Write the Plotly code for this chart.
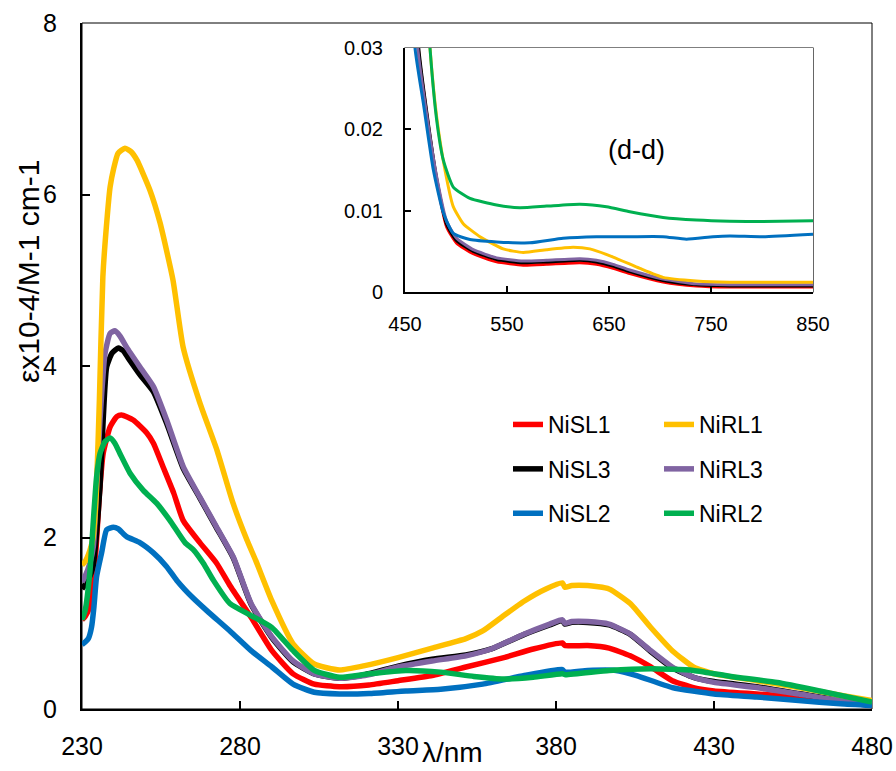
import plotly.graph_objects as go

# ---------------- main spectra (lambda / nm, eps x10^-4) ----------------
sl1_x = [230, 231, 232.5, 233.5, 234.5, 235.5, 236.7, 238.9, 241, 242.5, 246.2, 250.5, 252.6, 255.7, 259, 262, 267.3, 272.6, 276.8, 283.5, 290.1, 296.8, 303.5, 311.5, 320.8, 330, 340.8, 351.5, 363.5, 372.8, 382, 382.8, 390, 396.8, 403.5, 410, 416.8, 423.5, 430, 443.5, 456.8, 470, 480]
sl1_y = [1.04, 1.08, 1.2, 1.45, 1.9, 2.5, 2.98, 3.29, 3.41, 3.43, 3.37, 3.22, 3.10, 2.82, 2.52, 2.20, 1.94, 1.70, 1.44, 1.07, 0.68, 0.41, 0.29, 0.26, 0.28, 0.33, 0.39, 0.49, 0.60, 0.70, 0.77, 0.74, 0.74, 0.71, 0.62, 0.49, 0.33, 0.25, 0.21, 0.175, 0.14, 0.08, 0.04]

rl1_x = [230, 231, 232.5, 233.5, 234.5, 235.5, 236.6, 238, 238.9, 240, 241.4, 243.6, 245.5, 247.4, 251.5, 254.7, 258.8, 262, 267.3, 272.7, 277.8, 282.2, 285, 290.1, 296.8, 303.5, 311.5, 319.5, 330, 340.8, 351.5, 356.8, 363.5, 370, 376.8, 382, 382.8, 385, 390, 396.8, 403.5, 410, 416.8, 423.5, 430, 443.5, 456.8, 470, 480]
rl1_y = [1.68, 1.72, 1.85, 2.0, 2.5, 3.6, 5.04, 5.75, 6.09, 6.3, 6.48, 6.54, 6.5, 6.4, 6.05, 5.67, 5.0, 4.22, 3.57, 3.02, 2.4, 1.97, 1.73, 1.26, 0.76, 0.525, 0.455, 0.506, 0.60, 0.71, 0.82, 0.91, 1.09, 1.26, 1.40, 1.47, 1.42, 1.44, 1.44, 1.40, 1.23, 0.95, 0.68, 0.49, 0.41, 0.33, 0.25, 0.16, 0.10]

sl3_x = [230, 231, 232.5, 233.5, 234.5, 235.7, 236.7, 237.8, 239.5, 241.5, 243, 244.5, 248.3, 252.6, 256.8, 262.1, 267.3, 272.6, 277.9, 283.5, 290.1, 296.8, 303.5, 311.5, 319.5, 330, 340.8, 351.5, 359.5, 370, 378, 382, 382.8, 385, 390, 396.8, 403.5, 410, 416.8, 423.5, 430, 443.5, 456.8, 470, 480]
sl3_y = [1.40, 1.45, 1.55, 1.66, 2.0, 2.59, 3.37, 3.99, 4.15, 4.21, 4.18, 4.10, 3.90, 3.70, 3.33, 2.80, 2.46, 2.11, 1.76, 1.22, 0.83, 0.55, 0.41, 0.36, 0.40, 0.50, 0.58, 0.63, 0.70, 0.87, 0.98, 1.03, 0.99, 1.01, 1.01, 0.98, 0.87, 0.67, 0.48, 0.37, 0.32, 0.26, 0.18, 0.10, 0.06]

rl3_x = [230, 231, 232.5, 233.6, 234.5, 235.7, 237.3, 238.9, 240.4, 242, 244.1, 248.3, 252.6, 256.8, 262.1, 267.3, 272.6, 277.9, 283.5, 290.1, 296.8, 303.5, 311.5, 319.5, 330, 340.8, 351.5, 359.5, 370, 378, 382, 382.8, 385, 390, 396.8, 403.5, 410, 416.8, 423.5, 430, 443.5, 456.8, 470, 480]
rl3_y = [1.48, 1.55, 1.7, 1.9, 2.5, 3.37, 4.15, 4.38, 4.41, 4.35, 4.22, 3.99, 3.76, 3.37, 2.82, 2.47, 2.12, 1.77, 1.23, 0.84, 0.56, 0.41, 0.36, 0.39, 0.49, 0.56, 0.62, 0.70, 0.875, 0.99, 1.04, 1.00, 1.02, 1.02, 0.99, 0.875, 0.68, 0.49, 0.37, 0.31, 0.25, 0.175, 0.10, 0.06]

sl2_x = [230, 231, 232, 233, 233.8, 234.6, 236.2, 237.8, 239.9, 241.5, 244.1, 248.3, 252.6, 256.8, 260, 265, 270, 276.8, 283.5, 290.1, 296.8, 303.5, 311.5, 320.8, 332.5, 343.5, 356.8, 370, 382, 382.8, 390, 399, 405.5, 416.8, 430, 443.5, 456.8, 470, 480]
sl2_y = [0.75, 0.78, 0.82, 0.95, 1.2, 1.54, 1.82, 2.09, 2.12, 2.10, 2.01, 1.94, 1.82, 1.66, 1.50, 1.30, 1.13, 0.91, 0.68, 0.49, 0.29, 0.195, 0.175, 0.18, 0.21, 0.23, 0.29, 0.39, 0.46, 0.43, 0.45, 0.45, 0.39, 0.25, 0.175, 0.14, 0.10, 0.06, 0.04]

rl2_x = [230, 231, 232.5, 233.6, 234.6, 235.7, 237.3, 238.9, 240.4, 242, 245.2, 249.4, 253.6, 257.8, 262.6, 265.2, 268.4, 271.6, 276.8, 283.5, 290.1, 296.8, 303.5, 311.5, 320.8, 332.5, 343.5, 354, 363.5, 372.8, 382, 383, 396.8, 410, 423.5, 437, 450, 463.5, 480]
rl2_y = [1.04, 1.15, 1.6, 2.2, 2.7, 2.98, 3.12, 3.16, 3.10, 2.98, 2.75, 2.55, 2.40, 2.20, 1.94, 1.86, 1.70, 1.50, 1.23, 1.09, 0.95, 0.68, 0.45, 0.37, 0.41, 0.45, 0.43, 0.38, 0.35, 0.37, 0.41, 0.40, 0.45, 0.47, 0.45, 0.37, 0.31, 0.21, 0.08]

# ---------------- inset (d-d region) ----------------
in_sl1_x = [455, 463, 471.2, 481, 490.8, 500.6, 516.9, 539.8, 565.9, 588.8, 621.4, 637.7, 654, 670.4, 703, 735.7, 768.4, 850]
in_sl1_y = [0.05, 0.03, 0.022, 0.0138, 0.008, 0.006, 0.0047, 0.0037, 0.0033, 0.0034, 0.0036, 0.0034, 0.0029, 0.00226, 0.00123, 0.00074, 0.0006, 0.0006]
in_sl3_x = [455, 463.5, 471.5, 481, 490.8, 500.6, 516.9, 539.8, 565.9, 588.8, 621.4, 637.7, 654, 670.4, 703, 735.7, 768.4, 850]
in_sl3_y = [0.05, 0.03, 0.022, 0.014, 0.0083, 0.0063, 0.005, 0.004, 0.0036, 0.0037, 0.0039, 0.0037, 0.0032, 0.0025, 0.0014, 0.00088, 0.00075, 0.00075]
in_rl3_x = [455, 462.5, 471, 481, 490.8, 500.6, 516.9, 539.8, 565.9, 588.8, 621.4, 637.7, 654, 670.4, 703, 735.7, 768.4, 850]
in_rl3_y = [0.05, 0.03, 0.022, 0.0142, 0.0087, 0.0066, 0.0052, 0.0042, 0.0038, 0.0039, 0.0041, 0.0039, 0.0034, 0.0027, 0.0016, 0.001, 0.0009, 0.0009]
in_rl1_x = [465, 474.5, 481, 489.2, 497.3, 507.1, 523.5, 546.3, 565.9, 588.8, 614.9, 631.2, 654.1, 680.2, 703, 735.7, 768.4, 850]
in_rl1_y = [0.05, 0.03, 0.0216, 0.015, 0.0105, 0.0084, 0.0068, 0.0053, 0.00485, 0.0052, 0.0055, 0.0053, 0.0043, 0.0029, 0.0018, 0.00136, 0.0012, 0.0012]
in_sl2_x = [452, 459.8, 468, 477.8, 487.6, 497.3, 513.7, 539.8, 572.4, 605, 637.7, 670.4, 703, 725.9, 752, 768.4, 801, 850]
in_sl2_y = [0.05, 0.03, 0.0232, 0.015, 0.0097, 0.0072, 0.00645, 0.00616, 0.00604, 0.0066, 0.0068, 0.0068, 0.0068, 0.0065, 0.0068, 0.0069, 0.0068, 0.0071]
in_rl2_x = [465, 474.5, 481, 487.6, 497.3, 513.7, 539.8, 562.6, 588.8, 621.4, 647.6, 670.4, 703, 735.7, 768.4, 801, 850]
in_rl2_y = [0.05, 0.03, 0.0212, 0.0162, 0.0129, 0.0115, 0.0107, 0.01036, 0.01056, 0.0108, 0.01048, 0.00986, 0.00916, 0.00884, 0.0087, 0.00867, 0.00875]

names = ["NiSL1", "NiRL1", "NiSL3", "NiRL3", "NiSL2", "NiRL2"]
colors = {"NiSL1": "#FF0000", "NiRL1": "#FFC000", "NiSL3": "#000000",
          "NiRL3": "#8064A2", "NiSL2": "#0070C0", "NiRL2": "#00B050"}

main_tick_vals = [230, 280, 330, 380, 430, 480]
inset_tick_vals = [450, 550, 650, 750, 850]

FONT = "Liberation Sans, Arial, sans-serif"
W, H = 896, 771

main = {
    "NiSL1": (sl1_x, sl1_y), "NiRL1": (rl1_x, rl1_y), "NiSL3": (sl3_x, sl3_y),
    "NiRL3": (rl3_x, rl3_y), "NiSL2": (sl2_x, sl2_y), "NiRL2": (rl2_x, rl2_y),
}
inset = {
    "NiSL1": (in_sl1_x, in_sl1_y), "NiRL1": (in_rl1_x, in_rl1_y), "NiSL3": (in_sl3_x, in_sl3_y),
    "NiRL3": (in_rl3_x, in_rl3_y), "NiSL2": (in_sl2_x, in_sl2_y), "NiRL2": (in_rl2_x, in_rl2_y),
}
draw_order = ["NiSL1", "NiSL3", "NiRL3", "NiRL1", "NiSL2", "NiRL2"]
legend_of = {"NiSL1": ("legend", 1), "NiSL3": ("legend", 2), "NiSL2": ("legend", 3),
             "NiRL1": ("legend2", 1), "NiRL3": ("legend2", 2), "NiRL2": ("legend2", 3)}

fig = go.Figure()
for n in draw_order:
    x, y = main[n]
    lg, rank = legend_of[n]
    fig.add_trace(go.Scatter(x=x, y=y, mode="lines", name=n,
                             line=dict(color=colors[n], width=5.5, shape="spline", smoothing=0.5),
                             legend=lg, legendrank=rank, legendgroup=n,
                             xaxis="x", yaxis="y"))
for n in draw_order:
    x, y = inset[n]
    fig.add_trace(go.Scatter(x=x, y=y, mode="lines", name=n, showlegend=False,
                             line=dict(color=colors[n], width=3, shape="spline", smoothing=0.5),
                             legendgroup=n, xaxis="x2", yaxis="y2"))

ax_common = dict(showgrid=False, zeroline=False, showline=True, linecolor="black",
                 ticks="inside", tickcolor="black", automargin=False)

fig.update_layout(
    template="none",
    width=W, height=H,
    margin=dict(l=0, r=0, t=0, b=0, autoexpand=False),
    paper_bgcolor="white", plot_bgcolor="white",
    font=dict(family=FONT, color="black"),
    xaxis=dict(domain=[82 / W, 872 / W], range=[230, 480], tickvals=main_tick_vals,
               linewidth=2, ticklen=8, tickwidth=1.5, tickfont=dict(size=25),
               ticklabelstandoff=14, anchor="y", **ax_common),
    yaxis=dict(domain=[(H - 709) / H, (H - 23) / H], range=[0, 8], tickvals=[0, 2, 4, 6, 8],
               linewidth=2, ticklen=8, tickwidth=1.5, tickfont=dict(size=25),
               ticklabelstandoff=18, anchor="x", **ax_common),
    xaxis2=dict(domain=[405 / W, 813 / W], range=[450, 850], tickvals=inset_tick_vals,
                linewidth=2, ticklen=6, tickwidth=1.5, tickfont=dict(size=20),
                ticklabelstandoff=13, anchor="y2", **ax_common),
    yaxis2=dict(domain=[(H - 292) / H, (H - 48) / H], range=[0, 0.03],
                tickvals=[0, 0.01, 0.02, 0.03], ticktext=["0", "0.01", "0.02", "0.03"],
                linewidth=2, ticklen=6, tickwidth=1.5, tickfont=dict(size=20),
                ticklabelstandoff=16, anchor="x2", **ax_common),
    legend=dict(x=508 / W, xanchor="left", y=(H - 403) / H, yanchor="top",
                font=dict(size=23), bgcolor="rgba(0,0,0,0)", traceorder="grouped",
                tracegroupgap=11.5, itemwidth=30),
    legend2=dict(x=659 / W, xanchor="left", y=(H - 403) / H, yanchor="top",
                 font=dict(size=23), bgcolor="rgba(0,0,0,0)", traceorder="grouped",
                 tracegroupgap=11.5, itemwidth=30),
    shapes=[
        dict(type="rect", xref="x domain", yref="y domain", x0=0, x1=1, y0=0, y1=1,
             line=dict(color="black", width=1), layer="below"),
        dict(type="rect", xref="x2 domain", yref="y2 domain", x0=0, x1=1, y0=0, y1=1,
             line=dict(color="black", width=1.2), layer="below"),
    ],
    annotations=[
        dict(text="εx10-4/M-1 cm-1", xref="paper", yref="paper", x=28 / W, y=(H - 272) / H,
             textangle=-90, showarrow=False, font=dict(size=30), xanchor="center", yanchor="middle"),
        dict(text="λ/nm", xref="paper", yref="paper", x=452 / W, y=(H - 735) / H,
             showarrow=False, font=dict(size=28), xanchor="center", yanchor="top"),
        dict(text="(d-d)", xref="x2", yref="y2", x=677, y=0.0175, showarrow=False,
             font=dict(size=27), xanchor="center", yanchor="middle"),
    ],
)

fig.write_html("out.html", config={"displayModeBar": False},
               post_script="document.body.style.margin='0px';")
